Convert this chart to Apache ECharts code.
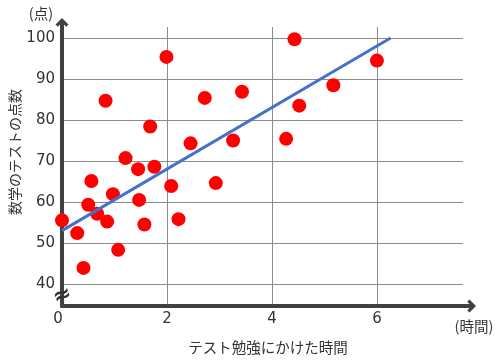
<!DOCTYPE html>
<html><head><meta charset="utf-8">
<script src="https://cdn.jsdelivr.net/npm/echarts@6/dist/echarts.min.js"></script>
<style>html,body{margin:0;padding:0;background:#fff}#c{width:502px;height:360px}</style>
</head><body><div id="c"></div>
<script>
// data
const studyHours = [0, 0.29, 0.41, 0.50, 0.56, 0.67, 0.83, 0.86, 0.97, 1.07, 1.21, 1.45, 1.47, 1.57, 1.68, 1.76, 1.99, 2.08, 2.22, 2.45, 2.72, 2.93, 3.26, 3.43, 4.27, 4.43, 4.52, 5.17, 6.00];
const testScores = [55.5, 52.4, 43.9, 59.3, 65.1, 57.1, 84.7, 55.2, 61.9, 48.3, 70.7, 68.0, 60.5, 54.5, 78.4, 68.6, 95.4, 63.9, 55.8, 74.3, 85.4, 64.6, 75.0, 86.9, 75.4, 99.7, 83.5, 88.5, 94.5];
const trendX = [0, 6.26];
const trendY = [53, 100];
const xTicks = [0, 2, 4, 6];
const yTicks = [40, 50, 60, 70, 80, 90, 100];
const xName = 'テスト勉強にかけた時間';
const xUnit = '(時間)';
const yName = '数学のテストの点数';
const yUnit = '(点)';

const scatterData = studyHours.map((x, i) => [x, testScores[i]]);
const trendData = trendX.map((x, i) => [x, trendY[i]]);

const arrow = 'path://M10,0 L20,10 L16.5,13.5 L13,10 L13,20 L7,20 L7,10 L3.5,13.5 L0,10 Z';
const axisColor = '#404040';
const gridColor = '#8c8c8c';
const numFont = 'DejaVu Sans';
const jpFont = 'Noto Sans CJK JP';

const chart = echarts.init(document.getElementById('c'), null, {renderer: 'canvas'});
chart.setOption({
  animation: false,
  backgroundColor: '#fff',
  grid: {left: 62, top: 27, right: 39, bottom: 54, containLabel: false},
  xAxis: {
    type: 'value', min: 0, max: 7.64,
    axisLine: {show: true, onZero: false, lineStyle: {color: axisColor, width: 4},
      symbol: ['none', arrow], symbolSize: [13, 13], symbolOffset: [0, 6.5]},
    axisTick: {show: false, customValues: xTicks},
    axisLabel: {customValues: xTicks, margin: 6, color: '#333', fontFamily: numFont, fontSize: 15,
      formatter: v => v === 0 ? '{z|0}' : String(v),
      rich: {z: {padding: [0, 8, 0, 0], color: '#333', fontFamily: numFont, fontSize: 15}}},
    splitLine: {show: true, lineStyle: {color: gridColor, width: 1}}
  },
  yAxis: {
    type: 'value', min: 34.6, max: 102.7,
    axisLine: {show: true, onZero: false, lineStyle: {color: axisColor, width: 4},
      symbol: ['none', arrow], symbolSize: [13, 13], symbolOffset: [0, 2.5]},
    axisTick: {show: false, customValues: yTicks},
    axisLabel: {customValues: yTicks, margin: 7, color: '#333', fontFamily: numFont, fontSize: 15},
    splitLine: {show: true, lineStyle: {color: gridColor, width: 1}}
  },
  series: [
    {type: 'scatter', data: scatterData, symbolSize: 14, itemStyle: {color: '#ff0000', opacity: 1}, z: 3},
    {type: 'line', data: trendData, showSymbol: false, symbol: 'none', lineStyle: {color: '#4472c4', width: 3}, z: 4}
  ],
  graphic: [
    {type: 'text', x: 41, y: 13, style: {text: yUnit, font: '14.5px "' + jpFont + '"', fill: '#333', align: 'center', verticalAlign: 'middle'}},
    {type: 'text', x: 15, y: 152, rotation: Math.PI / 2, style: {text: yName, font: '14px "' + jpFont + '"', fill: '#333', align: 'center', verticalAlign: 'middle'}},
    {type: 'text', x: 268, y: 347, style: {text: xName, font: '14.5px "' + jpFont + '"', fill: '#333', align: 'center', verticalAlign: 'middle'}},
    {type: 'text', x: 474, y: 326.5, style: {text: xUnit, font: '14.5px "' + jpFont + '"', fill: '#333', align: 'center', verticalAlign: 'middle'}},
    {type: 'text', x: 62.5, y: 296, rotation: 0.35, z: 100, style: {text: '≈', font: 'bold 22px "DejaVu Sans"', fill: '#333', align: 'center', verticalAlign: 'middle'}}
  ]
});
</script>
</body></html>
